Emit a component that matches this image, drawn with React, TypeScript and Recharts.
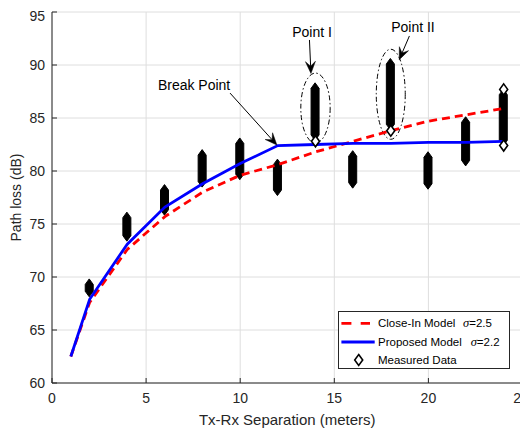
import React from 'react';
import {
  ComposedChart, Line, Bar, Scatter, XAxis, YAxis, CartesianGrid,
  ReferenceArea, ReferenceLine, ReferenceDot,
} from 'recharts';

// ---- data ----
const distances = [1, 2, 4, 6, 8, 10, 12, 14, 16, 18, 20, 22, 24];
const closeInModel = [62.5, 67.6, 72.6, 75.7, 78.0, 79.6, 80.6, 81.8, 82.8, 83.8, 84.7, 85.3, 85.9];
const proposedModel = [62.5, 67.9, 73.1, 76.6, 78.8, 80.7, 82.4, 82.5, 82.6, 82.6, 82.7, 82.7, 82.8];

const measuredX = [2, 4, 6, 8, 10, 12, 14, 16, 18, 20, 22, 24];
const measuredMin = [68.65, 73.9, 76.35, 79.0, 79.7, 78.2, 83.4, 78.9, 84.4, 78.8, 81.0, 82.9];
const measuredMax = [69.3, 75.6, 78.2, 81.5, 82.6, 80.6, 87.8, 81.4, 90.1, 81.3, 84.6, 87.2];
const outlierX = [14, 18, 24, 24];
const outlierY = [82.8, 83.8, 82.4, 87.7];

const xTicks = [0, 5, 10, 15, 20, 25];
const yTicks = [60, 65, 70, 75, 80, 85, 90, 95];

const seriesNames = ['Close-In Model', 'Proposed Model', 'Measured Data'];
const sigmaLabels = ['=2.5', '=2.2'];
const xLabel = 'Tx-Rx Separation (meters)';
const yLabel = 'Path loss (dB)';

// annotations (data coordinates)
const ellipses = [
  { x1: 13.22, x2: 14.78, y1: 82.64, y2: 89.24 },
  { x1: 17.23, x2: 18.77, y1: 82.99, y2: 91.49 },
];
const arrows = [
  [{ x: 9.46, y: 87.35 }, { x: 11.95, y: 82.45 }],
  [{ x: 13.68, y: 92.36 }, { x: 13.76, y: 89.2 }],
  [{ x: 18.99, y: 92.74 }, { x: 18.45, y: 90.5 }],
];
const notes = [
  { x: 7.55, y: 88.11, text: 'Break Point' },
  { x: 13.82, y: 93.11, text: 'Point I' },
  { x: 19.18, y: 93.6, text: 'Point II' },
];

const RED = '#ff0000';
const BLUE = '#0000ff';
const AXIS = '#262626';
const FONT = '"Liberation Sans", Arial, Helvetica, sans-serif';

const rows = distances.map((x, i) => {
  const j = measuredX.indexOf(x);
  return {
    x,
    closeIn: closeInModel[i],
    proposed: proposedModel[i],
    range: j >= 0 ? [measuredMin[j], measuredMax[j]] : undefined,
  };
});
const outliers = outlierX.map((x, i) => ({ x, y: outlierY[i] }));

const DW = 4; // diamond half width
const DH = 5.5; // diamond half height

const StackShape = (props: any) => {
  const { x, y, width, height, payload } = props;
  if (!payload || !payload.range || !isFinite(y) || !isFinite(height)) return <g />;
  const cx = x + width / 2;
  const top = Math.min(y, y + height);
  const bot = Math.max(y, y + height);
  const pts = [
    [cx, top - DH], [cx + DW, top], [cx + DW, bot], [cx, bot + DH], [cx - DW, bot], [cx - DW, top],
  ].map((p) => p.join(',')).join(' ');
  return <polygon points={pts} fill="#000" stroke="#000" strokeWidth={1} />;
};

const Diamond = (props: any) => {
  const { cx, cy } = props;
  if (!isFinite(cx) || !isFinite(cy)) return <g />;
  const pts = [[cx, cy - DH], [cx + DW, cy], [cx, cy + DH], [cx - DW, cy]].map((p) => p.join(',')).join(' ');
  return <polygon points={pts} fill="#fff" stroke="#000" strokeWidth={1.6} />;
};

const EllipseShape = (props: any) => {
  const { x, y, width, height } = props;
  return (
    <ellipse cx={x + width / 2} cy={y + height / 2} rx={Math.abs(width) / 2} ry={Math.abs(height) / 2}
      fill="none" stroke="#000" strokeWidth={1} strokeDasharray="5 2.5 1.5 2.5" />
  );
};

const ArrowShape = (props: any) => {
  const { x1, y1, x2, y2 } = props;
  const dx = x2 - x1, dy = y2 - y1;
  const len = Math.sqrt(dx * dx + dy * dy) || 1;
  const ux = dx / len, uy = dy / len;
  const nx = -uy, ny = ux;
  const L = 12, W = 10;
  const bx = x2 - ux * L, by = y2 - uy * L;
  const mx = x2 - ux * L * 0.6, my = y2 - uy * L * 0.6;
  const pts = [
    [x2, y2], [bx + nx * W / 2, by + ny * W / 2], [mx, my], [bx - nx * W / 2, by - ny * W / 2],
  ].map((p) => p.join(',')).join(' ');
  return (
    <g>
      <line x1={x1} y1={y1} x2={mx} y2={my} stroke="#000" strokeWidth={1} />
      <polygon points={pts} fill="#000" stroke="#000" strokeWidth={0.5} />
    </g>
  );
};

const makeNote = (text: string) => (props: any) => (
  <text x={props.cx} y={props.cy} textAnchor="middle" dominantBaseline="central"
    fontSize={14} fontFamily={FONT} fill="#000">{text}</text>
);

const LegendBox = () => (
  <div style={{
    position: 'absolute', left: 330, top: 303, width: 172, height: 58, boxSizing: 'border-box',
    border: `1px solid ${AXIS}`, background: '#fff',
  }}>
    <svg width={170} height={56} style={{ display: 'block' }}>
      <line x1={2.4} x2={31} y1={11.4} y2={11.4} stroke={RED} strokeWidth={2.8} strokeDasharray="10 9.3" />
      <line x1={2.4} x2={35.7} y1={30} y2={30} stroke={BLUE} strokeWidth={2.8} />
      <Diamond cx={19.7} cy={48} />
      <g fontFamily={FONT} fontSize={11.5} fill="#000" dominantBaseline="central">
        <text x={39} y={11.4}>{seriesNames[0]}</text>
        <text x={124} y={11.4}><tspan fontStyle="italic" fontFamily='"Liberation Serif", serif' fontSize={12.5}>σ</tspan>{sigmaLabels[0]}</text>
        <text x={39} y={30}>{seriesNames[1]}</text>
        <text x={131.7} y={30}><tspan fontStyle="italic" fontFamily='"Liberation Serif", serif' fontSize={12.5}>σ</tspan>{sigmaLabels[1]}</text>
        <text x={39} y={48}>{seriesNames[2]}</text>
      </g>
    </svg>
  </div>
);

const tickStyle = { fill: AXIS, fontSize: 14, fontFamily: FONT };

export default function App() {
  return (
    <div style={{ position: 'relative', width: 520, height: 425, fontFamily: FONT }}>
      <ComposedChart width={520} height={425} data={rows} style={{ overflow: 'visible' }}
        margin={{ top: 4, right: 5.5, bottom: 0, left: 0 }}>
        <CartesianGrid stroke="#dedede" strokeWidth={1} />
        <XAxis dataKey="x" type="number" domain={[0, 25]} ticks={xTicks} allowDataOverflow
          height={50} tickSize={-5} tickMargin={15} tick={tickStyle}
          stroke={AXIS} tickLine={{ stroke: AXIS }} axisLine={{ stroke: AXIS }}
          label={{ value: xLabel, position: 'insideBottom', offset: 8.5, fill: AXIS, fontSize: 15, fontFamily: FONT }} />
        <XAxis xAxisId="top" orientation="top" type="number" domain={[0, 25]} ticks={xTicks}
          allowDataOverflow height={0} tickSize={-5} tick={false} stroke={AXIS} />
        <YAxis type="number" domain={[60, 95]} ticks={yTicks} allowDataOverflow width={44}
          tickSize={-5} tickMargin={12} tick={tickStyle} stroke={AXIS}
          label={{ value: yLabel, angle: -90, position: 'insideLeft', offset: 8, fill: AXIS, fontSize: 14, fontFamily: FONT, style: { textAnchor: 'middle' } }} />
        <YAxis yAxisId="right" orientation="right" type="number" domain={[60, 95]} ticks={yTicks}
          allowDataOverflow width={0} tickSize={-5} tick={false} stroke={AXIS} />

        <Bar dataKey="range" barSize={8} shape={StackShape} isAnimationActive={false} />
        <Scatter data={outliers} dataKey="y" shape={Diamond} isAnimationActive={false} />
        <Line dataKey="closeIn" stroke={RED} strokeWidth={2.8} strokeDasharray="8 5" dot={false} activeDot={false} isAnimationActive={false} />
        <Line dataKey="proposed" stroke={BLUE} strokeWidth={2.8} dot={false} activeDot={false} isAnimationActive={false} />

        {ellipses.map((e, i) => (
          <ReferenceArea key={`e${i}`} x1={e.x1} x2={e.x2} y1={e.y1} y2={e.y2} shape={EllipseShape} />
        ))}
        {arrows.map((seg, i) => (
          <ReferenceLine key={`a${i}`} segment={seg} shape={ArrowShape} />
        ))}
        {notes.map((n, i) => (
          <ReferenceDot key={`n${i}`} x={n.x} y={n.y} r={0} shape={makeNote(n.text)} />
        ))}
      </ComposedChart>
      <LegendBox />
    </div>
  );
}
